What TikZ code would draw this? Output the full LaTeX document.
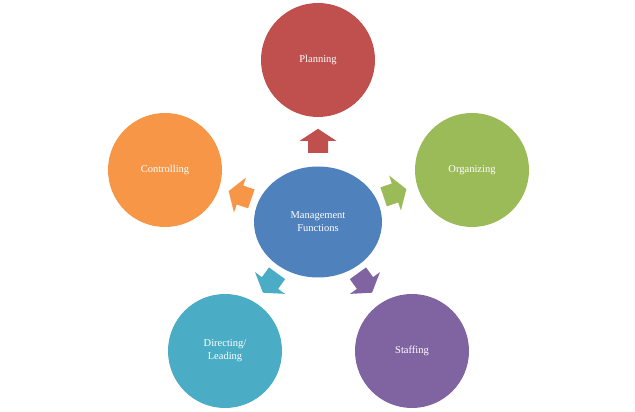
\documentclass[tikz,border=0pt]{standalone}
\usepackage{fontspec}
\setmainfont{Liberation Serif}
\usetikzlibrary{shapes.geometric}
\definecolor{cP}{HTML}{C0504D}
\definecolor{cO}{HTML}{9BBB59}
\definecolor{cS}{HTML}{8064A2}
\definecolor{cD}{HTML}{4BACC6}
\definecolor{cC}{HTML}{F79646}
\definecolor{cM}{HTML}{4F81BD}
\tikzset{
  circ/.style={circle,minimum size=114pt,inner sep=0pt,text=white,align=center,font=\fontsize{10.5}{13}\selectfont},
  blockarrow/.pic={\fill (-12,-9)--(0,-9)--(0,-18)--(12,0)--(0,18)--(0,9)--(-12,9)--cycle;}
}
\begin{document}
\begin{tikzpicture}[x=1pt,y=1pt]
\useasboundingbox (0,0) rectangle (635,412);
\node[ellipse,fill=cM,minimum width=128pt,minimum height=111pt,inner sep=0pt,text=white,align=center,font=\fontsize{10.5}{13}\selectfont] (m) at (318,190) {Management\\Functions};
\node[circ,fill=cP] (p) at (318,352) {Planning};
\node[circ,fill=cO] (o) at (472,242) {Organizing};
\node[circ,fill=cS] (s) at (412,61) {Staffing};
\node[circ,fill=cD] (d) at (225,61) {Directing/\\Leading};
\node[circ,fill=cC] (c) at (165,242) {Controlling};
\fill[cP] (318,271) pic[rotate=90,yscale=1,fill=cP]{blockarrow};
\begin{scope}[shift={(318,271)},rotate=90,cP] \fill (-12,-10)--(0,-10)--(0,-18.5)--(12,0)--(0,18.5)--(0,10)--(-12,10)--cycle; \end{scope}
\begin{scope}[shift={(395,219)},rotate=18.7] \fill[cO] (-12,-10)--(0,-10)--(0,-18.5)--(12,0)--(0,18.5)--(0,10)--(-12,10)--cycle; \end{scope}
\begin{scope}[shift={(240,217)},rotate=161] \fill[cC] (-12,-10)--(0,-10)--(0,-18.5)--(12,0)--(0,18.5)--(0,10)--(-12,10)--cycle; \end{scope}
\begin{scope}[shift={(270,129)},rotate=234] \fill[cD] (-12,-10)--(0,-10)--(0,-18.5)--(12,0)--(0,18.5)--(0,10)--(-12,10)--cycle; \end{scope}
\begin{scope}[shift={(365,129)},rotate=306] \fill[cS] (-12,-10)--(0,-10)--(0,-18.5)--(12,0)--(0,18.5)--(0,10)--(-12,10)--cycle; \end{scope}
\end{tikzpicture}
\end{document}
